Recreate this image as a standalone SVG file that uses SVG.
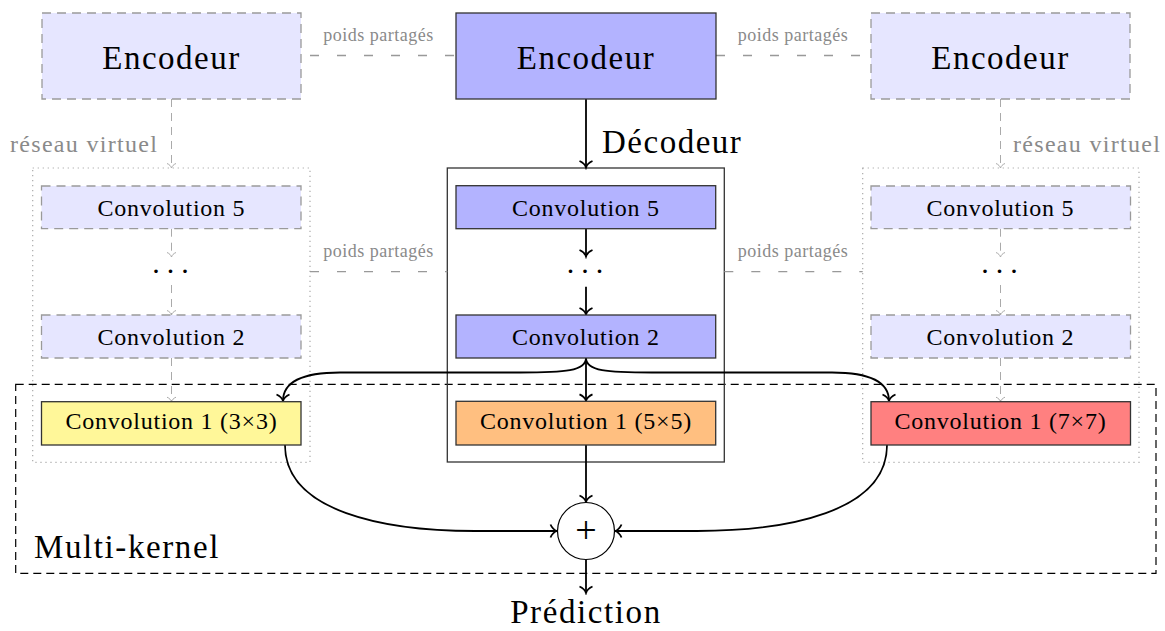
<svg xmlns="http://www.w3.org/2000/svg" width="1165" height="631" viewBox="0 0 1165 631">
<style>
text{font-family:"Liberation Serif","Times New Roman",serif;fill:#000}
.big{font-size:33px;letter-spacing:1.5px}
.conv{font-size:24px;letter-spacing:0.75px;text-anchor:middle}
.gsm{font-size:18px;letter-spacing:0.5px;fill:#8a8a8a;text-anchor:middle}
.gmd{font-size:24px;letter-spacing:1.3px;fill:#8a8a8a}
.ghost{fill:#e6e6ff;stroke:#9a9a9a;stroke-width:1.3;stroke-dasharray:9 6}
.solid{stroke:#333;stroke-width:1.3}
.dotc{fill:none;stroke:#aaa;stroke-width:1.2;stroke-dasharray:1.2 3.8}
.share{fill:none;stroke:#999;stroke-width:1.3;stroke-dasharray:9 18}
.garr{fill:none;stroke:#aaa;stroke-width:1;stroke-dasharray:8 6;marker-end:url(#gh)}
.barr{fill:none;stroke:#000;stroke-width:1.8;marker-end:url(#bh)}
.dots{font-size:30px;letter-spacing:7px}
</style>
<defs>
<marker id="bh" viewBox="-9 -9 11 18" markerWidth="11" markerHeight="18" refX="0" refY="0" orient="auto" markerUnits="userSpaceOnUse">
<path d="M-6.5,-6.5 C-5,-3 -2.5,-0.8 0,0 C-2.5,0.8 -5,3 -6.5,6.5" fill="none" stroke="#000" stroke-width="1.8"/>
</marker>
<marker id="gh" viewBox="-7 -7 9 14" markerWidth="9" markerHeight="14" refX="0" refY="0" orient="auto" markerUnits="userSpaceOnUse">
<path d="M-4.5,-4.5 C-3.5,-2 -1.8,-0.6 0,0 C-1.8,0.6 -3.5,2 -4.5,4.5" fill="none" stroke="#aaa" stroke-width="1"/>
</marker>
</defs>

<g id="multikernel">
<rect x="15.7" y="384.3" width="1140.3" height="189" fill="none" stroke="#000" stroke-width="1.2" stroke-dasharray="8 5"/>
<text class="big" x="34" y="558" style="letter-spacing:1.6px">Multi-kernel</text>
</g>

<g id="container-left"><rect class="dotc" x="32.7" y="168" width="277.3" height="294.3"/></g>
<g id="container-right"><rect class="dotc" x="862.7" y="168" width="276.3" height="294.3"/></g>
<g id="container-center"><rect x="447.3" y="168" width="277" height="294" fill="none" stroke="#333" stroke-width="1.3"/></g>

<g id="connectors">
<line class="share" x1="310" y1="55.5" x2="456" y2="55.5"/>
<line class="share" x1="716" y1="55.5" x2="871" y2="55.5"/>
<line class="share" x1="310" y1="271.7" x2="447.3" y2="271.7"/>
<line class="share" x1="724.3" y1="271.7" x2="862.7" y2="271.7"/>
<text class="gsm" x="378.5" y="41">poids partagés</text>
<text class="gsm" x="793" y="41">poids partagés</text>
<text class="gsm" x="378.5" y="257">poids partagés</text>
<text class="gsm" x="793" y="257">poids partagés</text>
<line class="garr" x1="171.5" y1="99" x2="171.5" y2="168"/>
<line class="garr" x1="1000.5" y1="99" x2="1000.5" y2="168"/>
<text class="gmd" x="10" y="151.7">réseau virtuel</text>
<text class="gmd" x="1013" y="151.7">réseau virtuel</text>
<line class="garr" x1="171.5" y1="228.7" x2="171.5" y2="257"/>
<line class="garr" x1="171.5" y1="285" x2="171.5" y2="315"/>
<line class="garr" x1="171.5" y1="358" x2="171.5" y2="401.7"/>
<line class="garr" x1="1000.5" y1="228.7" x2="1000.5" y2="257"/>
<line class="garr" x1="1000.5" y1="285" x2="1000.5" y2="315"/>
<line class="garr" x1="1000.5" y1="358" x2="1000.5" y2="401.7"/>
<text class="dots" x="152.3" y="273.3">...</text>
<text class="dots" x="981.3" y="273.3">...</text>
<text class="dots" x="566.8" y="273.3">...</text>
<line class="barr" x1="586" y1="99" x2="586" y2="167.5"/>
<text class="big" x="602" y="153">Décodeur</text>
<line class="barr" x1="586" y1="228.7" x2="586" y2="256.5"/>
<line class="barr" x1="586" y1="286.7" x2="586" y2="314.5"/>
<line class="barr" x1="586" y1="358" x2="586" y2="400.8"/>
<path class="barr" d="M586,358 C586,371 565,372.5 520,372.5 L340,372.5 C298,372.5 283,384 283,401"/>
<path class="barr" d="M586,358 C586,371 607,372.5 652,372.5 L832,372.5 C874,372.5 889,384 889,401"/>
<line class="barr" x1="586" y1="445" x2="586" y2="502"/>
<path class="barr" d="M285,445 C285,512 385,531 475,531 L557,531"/>
<path class="barr" d="M887,445 C887,512 787,531 697,531 L615,531"/>
<line class="barr" x1="586" y1="559.5" x2="586" y2="593"/>
</g>

<g id="enc-left"><rect class="ghost" x="42" y="13" width="259" height="86"/><text class="big" x="171.5" y="68.5" text-anchor="middle">Encodeur</text></g>
<g id="enc-center"><rect class="solid" fill="#b3b3ff" x="456" y="13" width="260" height="86"/><text class="big" x="586" y="68.5" text-anchor="middle">Encodeur</text></g>
<g id="enc-right"><rect class="ghost" x="871" y="13" width="259" height="86"/><text class="big" x="1000.5" y="68.5" text-anchor="middle">Encodeur</text></g>

<g id="conv5-left"><rect class="ghost" x="41.5" y="186" width="259.5" height="42.7"/><text class="conv" x="171.5" y="216">Convolution 5</text></g>
<g id="conv2-left"><rect class="ghost" x="41.5" y="315" width="259.5" height="43"/><text class="conv" x="171.5" y="345">Convolution 2</text></g>
<g id="conv1-left"><rect class="solid" fill="#fff799" x="41.5" y="401.7" width="259.5" height="43.3"/><text class="conv" x="171.5" y="429">Convolution 1 (3×3)</text></g>

<g id="conv5-center"><rect class="solid" fill="#b3b3ff" x="456" y="185.7" width="259.7" height="43"/><text class="conv" x="586" y="216">Convolution 5</text></g>
<g id="conv2-center"><rect class="solid" fill="#b3b3ff" x="456" y="315" width="259.7" height="43"/><text class="conv" x="586" y="345">Convolution 2</text></g>
<g id="conv1-center"><rect class="solid" fill="#ffbf80" x="456" y="401.3" width="259.7" height="43.7"/><text class="conv" x="586" y="429">Convolution 1 (5×5)</text></g>

<g id="conv5-right"><rect class="ghost" x="871" y="186" width="259.5" height="42.7"/><text class="conv" x="1000.5" y="216">Convolution 5</text></g>
<g id="conv2-right"><rect class="ghost" x="871" y="315" width="259.5" height="43"/><text class="conv" x="1000.5" y="345">Convolution 2</text></g>
<g id="conv1-right"><rect class="solid" fill="#ff8080" x="871" y="401.7" width="259.5" height="43.3"/><text class="conv" x="1000.5" y="429">Convolution 1 (7×7)</text></g>

<g id="sum"><circle cx="586" cy="531" r="28.5" fill="#fff" stroke="#000" stroke-width="1.2"/><text x="586" y="543" font-size="38" text-anchor="middle" style="fill:#000">+</text></g>

<g id="prediction"><text class="big" x="586" y="623" text-anchor="middle" style="letter-spacing:1.6px">Prédiction</text></g>
</svg>
